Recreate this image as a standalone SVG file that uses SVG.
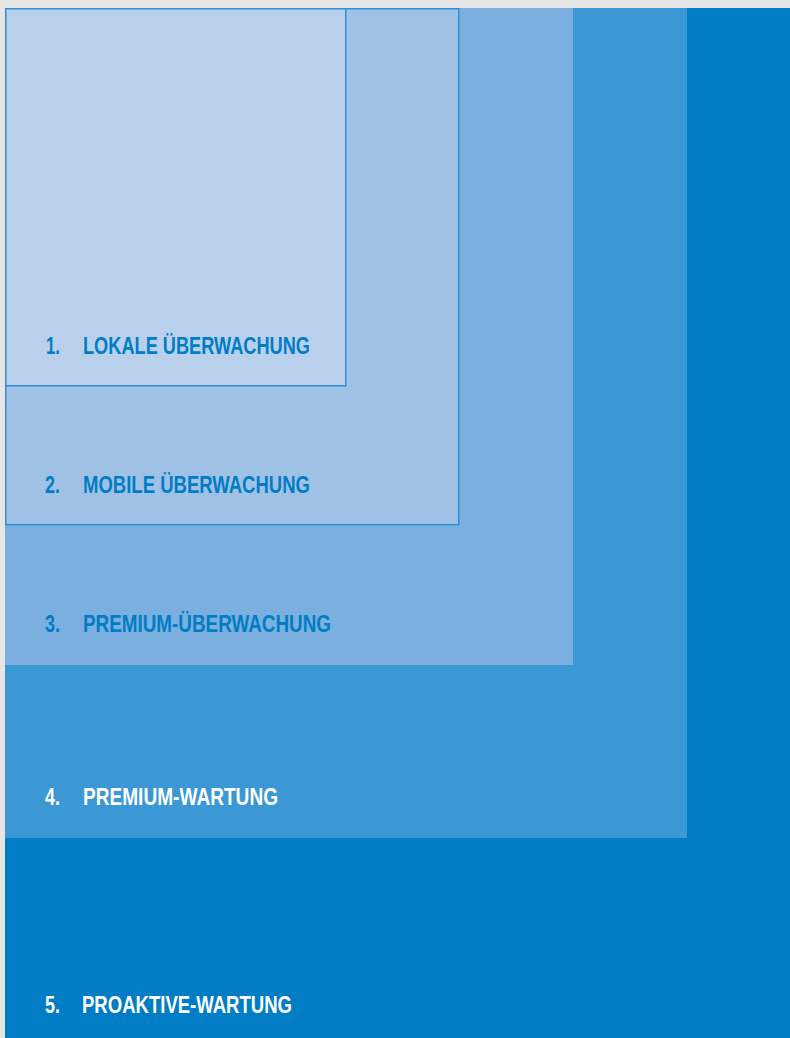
<svg xmlns="http://www.w3.org/2000/svg" width="790" height="1038" viewBox="0 0 790 1038">
<style>
.lbl{font-family:"Liberation Sans Narrow","Liberation Sans",Arial,sans-serif;font-weight:bold;font-size:23.5px}
.dark{fill:#007dc5}
.light{fill:#ffffff}
.edge{stroke:#2e8fd6;stroke-width:1.5}
</style>
<rect x="0" y="0" width="790" height="1038" fill="#e6e6e6"/>
<g id="level5">
<rect x="5" y="8" width="785" height="1030" fill="#007dc5"/>
<text class="lbl light" x="45" y="1013" textLength="15" lengthAdjust="spacingAndGlyphs">5.</text>
<text class="lbl light" x="82" y="1013" textLength="210" lengthAdjust="spacingAndGlyphs">PROAKTIVE-WARTUNG</text>
</g>
<g id="level4">
<rect x="5" y="8" width="682" height="830" fill="#3b98d4"/>
<text class="lbl light" x="45" y="805" textLength="15" lengthAdjust="spacingAndGlyphs">4.</text>
<text class="lbl light" x="83" y="805" textLength="195" lengthAdjust="spacingAndGlyphs">PREMIUM-WARTUNG</text>
</g>
<g id="level3">
<rect x="5" y="8" width="568" height="657" fill="#7aafdf"/>
<text class="lbl dark" x="45" y="632" textLength="15" lengthAdjust="spacingAndGlyphs">3.</text>
<text class="lbl dark" x="83" y="632" textLength="248" lengthAdjust="spacingAndGlyphs">PREMIUM-ÜBERWACHUNG</text>
</g>
<g id="level2">
<rect class="edge" x="5.75" y="8.75" width="453" height="516" fill="#a0c1e6"/>
<text class="lbl dark" x="45" y="493" textLength="15" lengthAdjust="spacingAndGlyphs">2.</text>
<text class="lbl dark" x="83" y="493" textLength="227" lengthAdjust="spacingAndGlyphs">MOBILE ÜBERWACHUNG</text>
</g>
<g id="level1">
<rect class="edge" x="5.75" y="8.75" width="340" height="377" fill="#b9d0ec"/>
<text class="lbl dark" x="46" y="354" textLength="14" lengthAdjust="spacingAndGlyphs">1.</text>
<text class="lbl dark" x="83" y="354" textLength="227" lengthAdjust="spacingAndGlyphs">LOKALE ÜBERWACHUNG</text>
</g>
<g id="connectors"></g>
</svg>
